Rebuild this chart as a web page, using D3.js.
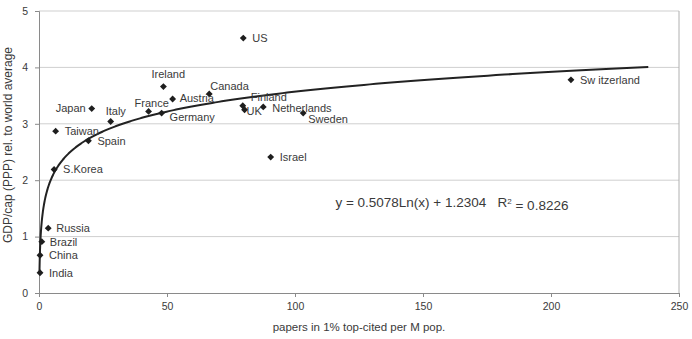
<!DOCTYPE html>
<html>
<head>
<meta charset="utf-8">
<script src="https://cdn.jsdelivr.net/npm/d3@7"></script>
<style>
    body { margin: 0; background: #fff; }
    svg text { font-family: "Liberation Sans", Arial, sans-serif; fill: #3a3a3a; }
</style>
</head>
<body>
<div id="chart_container"></div>
<script>
// countries, x = papers in 1% top-cited per M pop., y = GDP/cap (PPP) rel. to world average
let countries = ['US', 'Ireland', 'Canada', 'Austria', 'France', 'Germany', 'Japan', 'Italy',
    'Taiwan', 'Spain', 'S.Korea', 'Russia', 'Brazil', 'China', 'India', 'Finland', 'UK',
    'Netherlands', 'Sweden', 'Israel', 'Sw itzerland'];
let papers = [79.8, 48.6, 66.5, 52.2, 42.8, 47.9, 20.6, 28.0, 6.5, 19.3, 5.9, 3.6, 1.1, 0.4, 0.4,
    79.6, 80.3, 87.6, 103.2, 90.5, 207.8];
let gdp = [4.52, 3.66, 3.53, 3.44, 3.22, 3.19, 3.27, 3.04, 2.87, 2.70, 2.19, 1.15, 0.91, 0.67, 0.36,
    3.32, 3.25, 3.30, 3.19, 2.41, 3.78];

let xTicks = [0, 50, 100, 150, 200, 250];
let yTicks = [0, 1, 2, 3, 4, 5];

// logarithmic trendline y = a*ln(x) + b
let trendA = 0.5078;
let trendB = 1.2304;
let trendR2 = 0.8226;
let trendRange = [0.18, 238];

// label offsets from the marker (pixels), anchor
let labelOffsets = {
    'US': [9, 0, 'start'], 'Ireland': [-12, -12, 'start'], 'Canada': [1, -8, 'start'],
    'Austria': [7, -1, 'start'], 'France': [-14, -8, 'start'], 'Germany': [8, 4, 'start'],
    'Japan': [-6, 0, 'end'], 'Italy': [-5, -10, 'start'], 'Taiwan': [9, 0, 'start'],
    'Spain': [9, 0, 'start'], 'S.Korea': [9, 0, 'start'], 'Russia': [8, 0, 'start'],
    'Brazil': [8, 0, 'start'], 'China': [9, 0, 'start'], 'India': [9, 0, 'start'],
    'Finland': [8, -9, 'start'], 'UK': [2, 1, 'start'], 'Netherlands': [9, 1, 'start'],
    'Sweden': [5, 6, 'start'], 'Israel': [9, 0, 'start'], 'Sw itzerland': [9, 0, 'start']
};

let margin = { top: 11, right: 13, bottom: 46, left: 39 },
    width = 692 - margin.left - margin.right,
    height = 339 - margin.top - margin.bottom;

let svg = d3.select("#chart_container")
    .append("svg")
    .attr("width", 692)
    .attr("height", 339)
    .append("g")
    .attr("transform", "translate(" + margin.left + "," + margin.top + ")");

let x = d3.scaleLinear().domain([0, 250]).range([0, width]);
let y = d3.scaleLinear().domain([0, 5]).range([height, 0]);

// gridlines
svg.append("g")
    .selectAll("line")
    .data(yTicks.slice(1))
    .enter()
    .append("line")
    .attr("x1", 0)
    .attr("x2", width)
    .attr("y1", d => y(d))
    .attr("y2", d => y(d))
    .attr("stroke", "#cfcfcf")
    .attr("stroke-width", 1);

// right border
svg.append("line")
    .attr("x1", width).attr("x2", width)
    .attr("y1", 0).attr("y2", height)
    .attr("stroke", "#b0b0b0");

// axes
let xAxis = svg.append("g")
    .attr("transform", "translate(0," + height + ")")
    .call(d3.axisBottom(x).tickValues(xTicks).tickFormat(d3.format("d")).tickSize(4).tickPadding(6));
let yAxis = svg.append("g")
    .call(d3.axisLeft(y).tickValues(yTicks).tickFormat(d3.format("d")).tickSize(4).tickPadding(7));

[xAxis, yAxis].forEach(function (ax) {
    ax.select(".domain").attr("stroke", "#8a8a8a");
    ax.selectAll(".tick line").attr("stroke", "#8a8a8a");
    ax.selectAll("text")
        .style("font-size", "10.5px")
        .style("font-family", "'Liberation Sans', Arial, sans-serif")
        .attr("fill", "#444");
});

// trendline
let trendPoints = d3.range(0, 401).map(function (i) {
    let xv = trendRange[0] * Math.pow(trendRange[1] / trendRange[0], i / 400);
    return [xv, trendA * Math.log(xv) + trendB];
});
svg.append("path")
    .datum(trendPoints)
    .attr("fill", "none")
    .attr("stroke", "#222")
    .attr("stroke-width", 2)
    .attr("d", d3.line().x(d => x(d[0])).y(d => y(d[1])));

// markers
let points = countries.map(function (c, i) {
    return { name: c, px: papers[i], gdp: gdp[i] };
});

svg.selectAll("path.marker")
    .data(points)
    .enter()
    .append("path")
    .attr("class", "marker")
    .attr("d", d3.symbol().type(d3.symbolDiamond2).size(30))
    .attr("transform", d => "translate(" + x(d.px) + "," + y(d.gdp) + ")")
    .attr("fill", "#1e1e1e");

// labels
svg.selectAll("text.label")
    .data(points)
    .enter()
    .append("text")
    .attr("class", "label")
    .attr("x", d => x(d.px) + labelOffsets[d.name][0])
    .attr("y", d => y(d.gdp) + labelOffsets[d.name][1])
    .attr("dy", "0.35em")
    .attr("text-anchor", d => labelOffsets[d.name][2])
    .style("font-size", "11px")
    .text(d => d.name);

// equation
let eq = svg.append("text")
    .attr("x", x(161.3))
    .attr("y", y(1.60))
    .attr("dy", "0.35em")
    .attr("text-anchor", "middle")
    .style("font-size", "13.5px")
    .style("white-space", "pre");
eq.append("tspan").text("y = " + trendA.toFixed(4) + "Ln(x) + " + trendB.toFixed(4) + "   R");
eq.append("tspan").attr("dy", "-0.45em").style("font-size", "8px").text("2");
eq.append("tspan").attr("dy", "0.45em").text(" = " + trendR2.toFixed(4));

// axis titles
svg.append("text")
    .attr("x", width / 2)
    .attr("y", height + 38)
    .attr("text-anchor", "middle")
    .style("font-size", "11.5px")
    .text("papers in 1% top-cited per M pop.");

svg.append("text")
    .attr("transform", "rotate(-90)")
    .attr("x", -(height / 2) + 7)
    .attr("y", -27)
    .attr("text-anchor", "middle")
    .style("font-size", "12px")
    .text("GDP/cap (PPP) rel. to world average");
</script>
</body>
</html>
